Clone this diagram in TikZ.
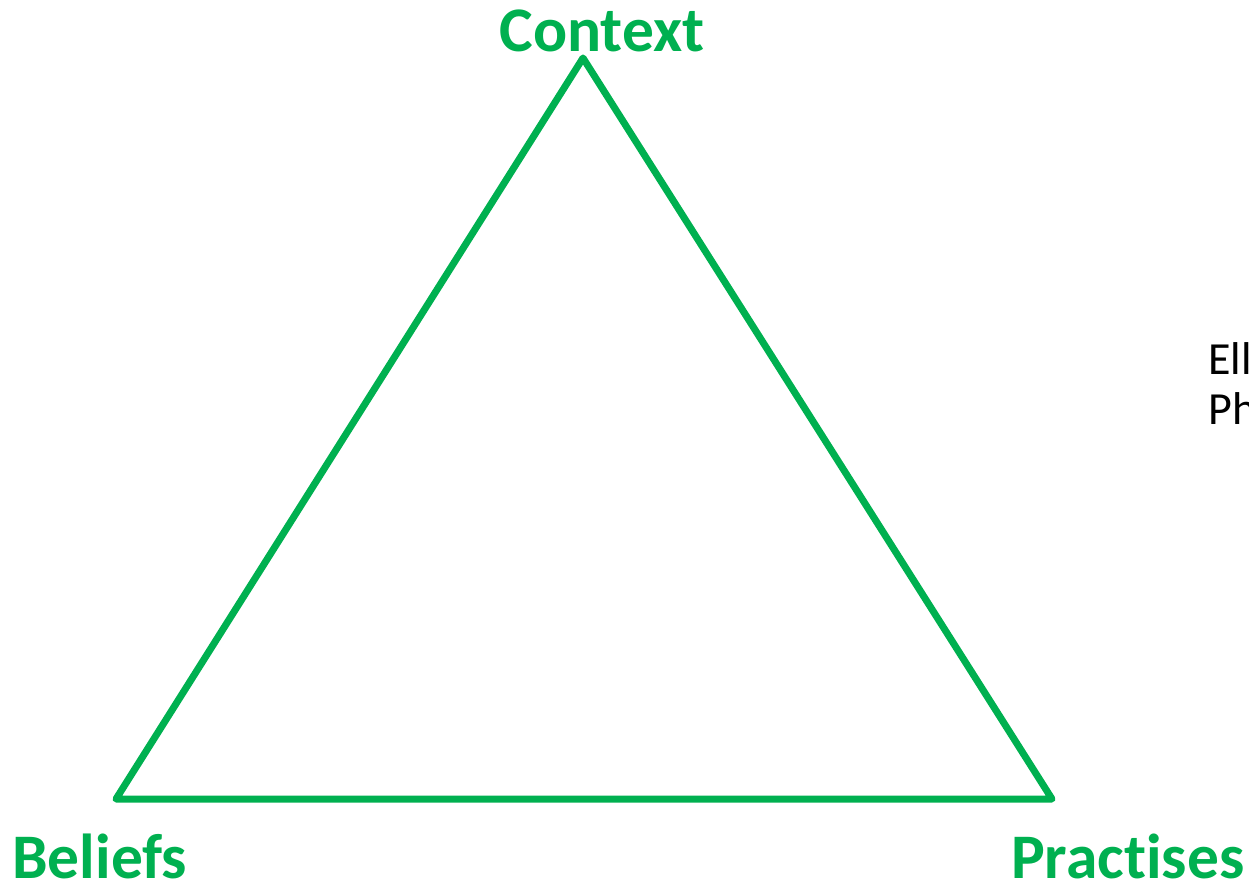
\documentclass[tikz,border=0pt]{standalone}
\usepackage{fontspec}
\setmainfont[Ligatures=NoCommon]{Carlito}
\definecolor{tgreen}{HTML}{00B050}
\begin{document}
\begin{tikzpicture}[x=1pt,y=-1pt,
  vlabel/.style={font=\fontsize{63.5}{63.5}\selectfont\bfseries, text=tgreen, inner sep=0pt},
  side/.style={font=\fontsize{46}{50}\selectfont, text=black, inner sep=0pt, anchor=base west}]
\useasboundingbox (0,0) rectangle (1249,882);
\clip (0,0) rectangle (1249,882);
\coordinate (C) at (583,58);
\coordinate (B) at (116,799);
\coordinate (P) at (1052,799);
\draw[tgreen, line width=7pt, line join=round] (C) -- (P) -- (B) -- cycle;
\node[vlabel, anchor=base] (ctx) at (602,52) {Context};
\node[vlabel, anchor=base west] (bel) at (12,878) {Beliefs};
\node[vlabel, anchor=base west] (pra) at (1011,878) {Practises};
\node[side] (ell) at (1208,374) {Ell};
\node[side] (ph) at (1208,424) {Ph};
\end{tikzpicture}
\end{document}
